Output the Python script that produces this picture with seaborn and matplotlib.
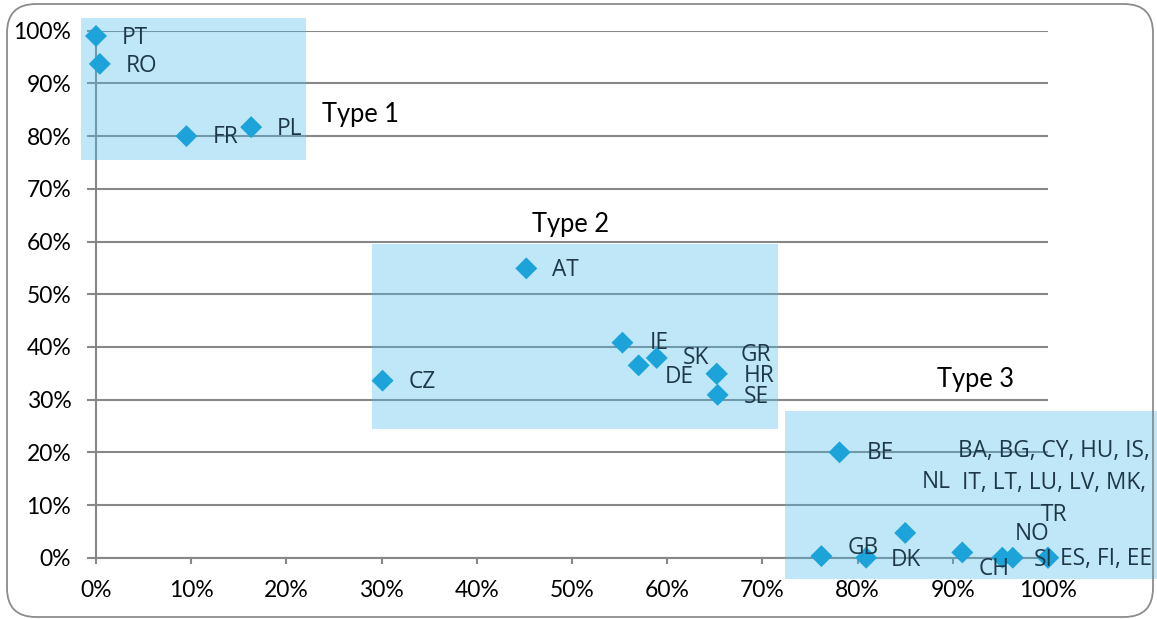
import matplotlib
matplotlib.use("Agg")
import matplotlib.pyplot as plt
from matplotlib.patches import Rectangle, FancyBboxPatch
from matplotlib.ticker import PercentFormatter
import seaborn as sns
import pandas as pd

# Country positions (share on x axis, share on y axis)
countries = ["PT", "RO", "FR", "PL", "AT", "CZ", "IE", "DE", "SK", "GR", "HR", "SE",
             "BE", "GB", "DK", "NL", "CH", "NO", "SI", "ES, FI, EE",
             "BA, BG, CY, HU, IS,\nIT, LT, LU, LV, MK,\nTR"]
x_share = [0.000, 0.004, 0.095, 0.163, 0.452, 0.301, 0.553, 0.570, 0.589, 0.652, 0.652, 0.653,
           0.781, 0.762, 0.809, 0.850, 0.910, 0.952, 0.963, 1.000, 1.000]
y_share = [0.990, 0.937, 0.800, 0.817, 0.549, 0.336, 0.408, 0.365, 0.379, 0.349, 0.349, 0.309,
           0.200, 0.003, 0.000, 0.047, 0.010, 0.000, 0.000, 0.000, 0.000]

# Label offsets from each marker, in pixels (right, up)
label_dx = [26, 26, 26, 26, 26, 26, 27, 26, 26, 24, 27, 26,
            27, 26, 25, 17, 16, 12, 21, 12, 6]
label_dy = [-2, -2, -1, -2, -2, -1, 0, -12, 0, 19, -2, -2,
            -1, 8, -2, 51, -17, 24, -2, -1, 75]

# Group boxes: (name, x0, x1, y0, y1) and label anchor
groups = ["Type 1", "Type 2", "Type 3"]
group_x = [(-0.016, 0.221), (0.290, 0.716), (0.724, 1.115)]
group_y = [(0.755, 1.025), (0.245, 0.595), (-0.040, 0.279)]
group_label_xy = [(0.237, 0.841), (0.4575, 0.633), (0.883, 0.338)]

x_ticks = [0.0, 0.1, 0.2, 0.3, 0.4, 0.5, 0.6, 0.7, 0.8, 0.9, 1.0]
y_ticks = [0.0, 0.1, 0.2, 0.3, 0.4, 0.5, 0.6, 0.7, 0.8, 0.9, 1.0]

df = pd.DataFrame({"country": countries, "x": x_share, "y": y_share})

sns.set_style("white")
plt.rcParams["font.family"] = ["Lato", "DejaVu Sans"]

DPI = 100
fig = plt.figure(figsize=(11.57, 6.19), dpi=DPI)
ax = fig.add_axes([96 / 1157, 1 - 557.7 / 619, 952 / 1157, 527 / 619])

grid_col = "#878787"
box_col = (72 / 255, 189 / 255, 235 / 255)
mark_col = "#1ca3da"
text_col = "#1e3848"

# rounded frame around the whole chart
frame = FancyBboxPatch((7 / 1157, 2 / 619), 1146 / 1157, 613 / 619,
                       boxstyle="round,pad=0,rounding_size=0.025",
                       transform=fig.transFigure, facecolor="none",
                       edgecolor="#8c8c8c", linewidth=1.3, zorder=0,
                       mutation_aspect=1157 / 619)
fig.patches.append(frame)

ax.set_xlim(0, 1)
ax.set_ylim(0, 1)
ax.set_yticks(y_ticks)
ax.set_xticks(x_ticks)
ax.xaxis.set_major_formatter(PercentFormatter(1.0, decimals=0))
ax.yaxis.set_major_formatter(PercentFormatter(1.0, decimals=0))
ax.yaxis.grid(True, color=grid_col, linewidth=1.5)
ax.xaxis.grid(False)
ax.set_axisbelow(True)
for side in ["top", "right"]:
    ax.spines[side].set_visible(False)
for side in ["left", "bottom"]:
    ax.spines[side].set_color(grid_col)
    ax.spines[side].set_linewidth(1.5)
    ax.spines[side].set_zorder(0.5)
ax.tick_params(axis="y", direction="out", length=6.3, width=1.5, color=grid_col,
               pad=11.5, labelsize=16.5, labelcolor="black")
ax.tick_params(axis="x", direction="out", length=4.5, width=1.5, color=grid_col,
               pad=11.5, labelsize=16.5, labelcolor="black")
ax.tick_params(left=True, bottom=True)

# shaded group boxes, drawn over the grid
for name, (x0, x1), (y0, y1), (lx, ly) in zip(groups, group_x, group_y, group_label_xy):
    ax.add_patch(Rectangle((x0, y0), x1 - x0, y1 - y0, facecolor=box_col, alpha=0.35,
                           edgecolor="none", clip_on=False, zorder=2))
    ax.text(lx, ly, name, fontsize=18.4, color="black", ha="left", va="center",
            zorder=5, clip_on=False)

sns.scatterplot(data=df, x="x", y="y", marker="D", s=125, color=mark_col,
                edgecolor="none", linewidth=0, ax=ax, zorder=4, clip_on=False,
                legend=False)
ax.set_xlabel("")
ax.set_ylabel("")

for lab, xv, yv, dx, dy in zip(countries, x_share, y_share, label_dx, label_dy):
    multi = "\n" in lab
    ax.annotate(lab, (xv, yv), xytext=(dx * 72 / DPI, dy * 72 / DPI),
                textcoords="offset points", ha="center" if multi else "left",
                va="center", fontsize=16.3, color=text_col,
                family=["Open Sans", "DejaVu Sans"], linespacing=1.45,
                zorder=6, annotation_clip=False)

fig.savefig("out.png", dpi=DPI)
